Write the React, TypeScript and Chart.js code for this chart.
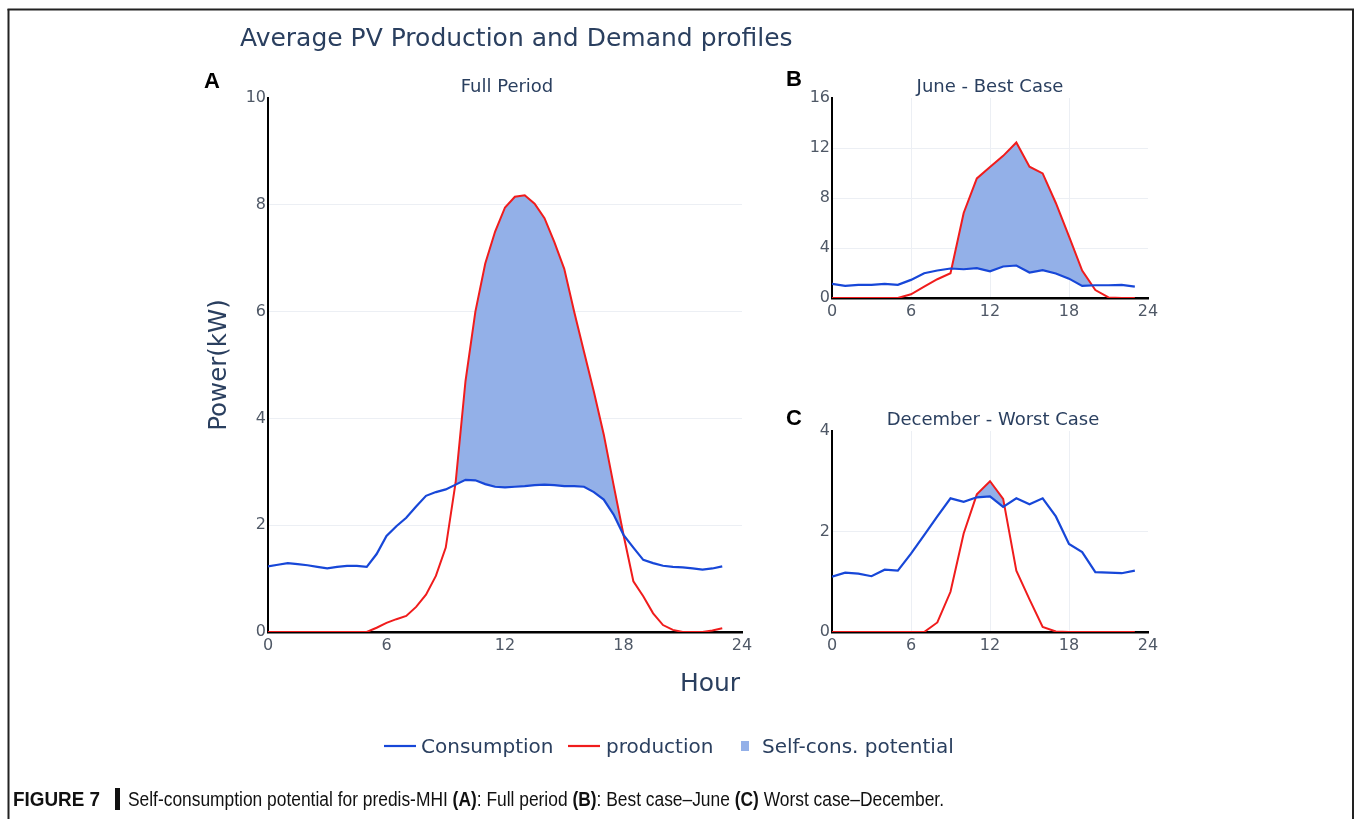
import React, { useEffect, useRef } from "react";
import { Chart, registerables } from "chart.js";
Chart.register(...registerables);

// ---------- data ----------
const hoursHalf = [0, 0.5, 1, 1.5, 2, 2.5, 3, 3.5, 4, 4.5, 5, 5.5, 6, 6.5, 7, 7.5, 8, 8.5, 9, 9.5, 10, 10.5, 11, 11.5, 12, 12.5, 13, 13.5, 14, 14.5, 15, 15.5, 16, 16.5, 17, 17.5, 18, 18.5, 19, 19.5, 20, 20.5, 21, 21.5, 22, 22.5, 23];
const hoursHourly = [0, 1, 2, 3, 4, 5, 6, 7, 8, 9, 10, 11, 12, 13, 14, 15, 16, 17, 18, 19, 20, 21, 22, 23];

// A: Full Period
const fullConsumption = [1.23, 1.26, 1.29, 1.27, 1.25, 1.22, 1.19, 1.22, 1.24, 1.24, 1.22, 1.46, 1.8, 1.98, 2.14, 2.35, 2.55, 2.62, 2.67, 2.76, 2.85, 2.84, 2.77, 2.72, 2.71, 2.72, 2.73, 2.75, 2.76, 2.75, 2.73, 2.73, 2.72, 2.62, 2.48, 2.2, 1.82, 1.58, 1.35, 1.29, 1.24, 1.22, 1.21, 1.19, 1.17, 1.19, 1.23];
const fullProduction = [0, 0, 0, 0, 0, 0, 0, 0, 0, 0, 0, 0.08, 0.17, 0.24, 0.3, 0.47, 0.7, 1.05, 1.58, 2.8, 4.7, 6.0, 6.9, 7.5, 7.95, 8.15, 8.18, 8.02, 7.75, 7.3, 6.8, 6.0, 5.25, 4.5, 3.7, 2.75, 1.82, 0.95, 0.67, 0.35, 0.13, 0.04, 0, 0, 0, 0.03, 0.07];

// B: June - Best Case
const juneConsumption = [1.13, 0.97, 1.05, 1.05, 1.13, 1.05, 1.45, 1.98, 2.2, 2.36, 2.3, 2.39, 2.14, 2.52, 2.6, 2.04, 2.23, 1.96, 1.55, 0.97, 1.02, 1.02, 1.05, 0.91];
const juneProduction = [0, 0, 0, 0, 0, 0, 0.3, 0.91, 1.5, 1.98, 6.8, 9.57, 10.48, 11.37, 12.44, 10.5, 9.97, 7.6, 4.93, 2.2, 0.64, 0.05, 0, 0];

// C: December - Worst Case
const decConsumption = [1.1, 1.18, 1.16, 1.11, 1.24, 1.22, 1.56, 1.93, 2.3, 2.66, 2.59, 2.68, 2.7, 2.49, 2.66, 2.54, 2.66, 2.3, 1.75, 1.59, 1.19, 1.18, 1.17, 1.22];
const decProduction = [0, 0, 0, 0, 0, 0, 0, 0, 0.19, 0.8, 1.96, 2.74, 3.0, 2.65, 1.22, 0.65, 0.1, 0.01, 0, 0, 0, 0, 0, 0];

const seriesNames = ["Consumption", "production", "Self-cons. potential"];

// ---------- style ----------
const BLUE = "#1747d8";
const RED = "#f01c1c";
const FILL = "#93b0e8";
const GRID = "#eceff4";
const TICK = "#4f5866";
const TITLE = "#2a3f5f";
const FONT = "'DejaVu Sans', Verdana, sans-serif";

type PanelProps = {
  left: number; top: number; width: number; height: number;
  padTop: number; padRight: number; yWidth: number; xHeight: number;
  hours: number[]; cons: number[]; prod: number[];
  yMax: number; yStep: number; xGrid: boolean;
};

function Panel(p: PanelProps) {
  const ref = useRef<HTMLCanvasElement>(null);
  useEffect(() => {
    const chart = new Chart(ref.current as HTMLCanvasElement, {
      type: "line",
      data: {
        datasets: [
          {
            label: seriesNames[0],
            data: p.hours.map((h, i) => ({ x: h, y: p.cons[i] })),
            borderColor: BLUE,
            borderWidth: 2.2,
            pointRadius: 0,
            tension: 0,
            fill: false,
          },
          {
            label: seriesNames[1],
            data: p.hours.map((h, i) => ({ x: h, y: p.prod[i] })),
            borderColor: RED,
            borderWidth: 2,
            pointRadius: 0,
            tension: 0,
            fill: { target: 0, above: FILL, below: "rgba(0,0,0,0)" },
          },
        ],
      },
      options: {
        animation: false,
        responsive: false,
        devicePixelRatio: 1,
        layout: { padding: { top: p.padTop, right: p.padRight, left: 0, bottom: 0 } },
        plugins: { legend: { display: false }, tooltip: { enabled: false }, title: { display: false } },
        scales: {
          x: {
            type: "linear",
            min: 0,
            max: 24,
            ticks: { stepSize: 6, font: { family: FONT, size: 16 }, color: TICK, padding: 4, maxRotation: 0, autoSkip: false },
            grid: {
              drawTicks: false,
              color: (ctx: any) =>
                !p.xGrid || (ctx.tick && (ctx.tick.value === 0 || ctx.tick.value === 24)) ? "rgba(0,0,0,0)" : GRID,
              lineWidth: 1,
            },
            border: { display: true, color: "#000", width: 2.5 },
            afterFit: (s: any) => { s.height = p.xHeight; },
          },
          y: {
            type: "linear",
            min: 0,
            max: p.yMax,
            ticks: { stepSize: p.yStep, font: { family: FONT, size: 16 }, color: TICK, padding: 2 },
            grid: {
              drawTicks: false,
              color: (ctx: any) =>
                ctx.tick && (ctx.tick.value === 0 || ctx.tick.value === p.yMax) ? "rgba(0,0,0,0)" : GRID,
              lineWidth: 1,
            },
            border: { display: true, color: "#000", width: 2 },
            afterFit: (s: any) => { s.width = p.yWidth; },
          },
        },
      },
    } as any);
    return () => chart.destroy();
  }, []);
  return (
    <canvas
      ref={ref}
      width={p.width}
      height={p.height}
      style={{ position: "absolute", left: p.left, top: p.top, width: p.width, height: p.height }}
    />
  );
}

export default function App() {
  return (
    <div style={{ position: "absolute", left: 0, top: 0, width: 1356, height: 819, background: "#fff", overflow: "hidden" }}>
      {/* A: plot area 268..742 x 98..632 */}
      <Panel left={200} top={80} width={570} height={590} padTop={18} padRight={28} yWidth={68} xHeight={38}
        hours={hoursHalf} cons={fullConsumption} prod={fullProduction} yMax={10} yStep={2} xGrid={false} />
      {/* B: plot area 832..1148 x 98..298 */}
      <Panel left={770} top={84} width={400} height={250} padTop={14} padRight={22} yWidth={62} xHeight={36}
        hours={hoursHourly} cons={juneConsumption} prod={juneProduction} yMax={16} yStep={4} xGrid={true} />
      {/* C: plot area 832..1148 x 431..632 */}
      <Panel left={770} top={417} width={400} height={250} padTop={14} padRight={22} yWidth={62} xHeight={35}
        hours={hoursHourly} cons={decConsumption} prod={decProduction} yMax={4} yStep={2} xGrid={true} />

      <svg width={1356} height={819} style={{ position: "absolute", left: 0, top: 0, pointerEvents: "none" }}>
        {/* frame */}
        <line x1={7.5} y1={9.5} x2={1354} y2={9.5} stroke="#222" strokeWidth={2} />
        <line x1={8.5} y1={9} x2={8.5} y2={819} stroke="#222" strokeWidth={2} />
        <line x1={1353} y1={9} x2={1353} y2={819} stroke="#222" strokeWidth={2} />

        <text x={240} y={46} fontFamily={FONT} fontSize={25} fill={TITLE}>Average PV Production and Demand profiles</text>

        <text x={204} y={88} fontFamily="'Liberation Sans', Arial, sans-serif" fontWeight="bold" fontSize={22} fill="#000">A</text>
        <text x={786} y={86} fontFamily="'Liberation Sans', Arial, sans-serif" fontWeight="bold" fontSize={22} fill="#000">B</text>
        <text x={786} y={425} fontFamily="'Liberation Sans', Arial, sans-serif" fontWeight="bold" fontSize={22} fill="#000">C</text>

        <text x={507} y={92} textAnchor="middle" fontFamily={FONT} fontSize={18} fill={TITLE}>Full Period</text>
        <text x={990} y={92} textAnchor="middle" fontFamily={FONT} fontSize={18} fill={TITLE}>June - Best Case</text>
        <text x={993} y={425} textAnchor="middle" fontFamily={FONT} fontSize={18} fill={TITLE}>December - Worst Case</text>

        <text transform="translate(226,365) rotate(-90)" textAnchor="middle" fontFamily={FONT} fontSize={24.5} fill={TITLE}>Power(kW)</text>
        <text x={710} y={691} textAnchor="middle" fontFamily={FONT} fontSize={25} fill={TITLE}>Hour</text>

        {/* legend */}
        <line x1={384} y1={746} x2={416} y2={746} stroke={BLUE} strokeWidth={2.2} />
        <text x={421} y={753} fontFamily={FONT} fontSize={20} fill={TITLE}>{seriesNames[0]}</text>
        <line x1={568} y1={746} x2={600} y2={746} stroke={RED} strokeWidth={2.2} />
        <text x={606} y={753} fontFamily={FONT} fontSize={20} fill={TITLE}>{seriesNames[1]}</text>
        <rect x={741} y={741} width={8} height={10} fill={FILL} />
        <text x={762} y={753} fontFamily={FONT} fontSize={20} fill={TITLE}>{seriesNames[2]}</text>

        {/* caption */}
        <text x={13} y={806} fontFamily="'Liberation Sans', Arial, sans-serif" fontWeight="bold" fontSize={19.5} fill="#111" textLength={87} lengthAdjust="spacingAndGlyphs">FIGURE 7</text>
        <rect x={115} y={788} width={5} height={22} fill="#111" />
        <text x={128} y={806} fontFamily="'Liberation Sans', Arial, sans-serif" fontSize={19.5} fill="#111" textLength={816} lengthAdjust="spacingAndGlyphs">
          Self-consumption potential for predis-MHI <tspan fontWeight="bold">(A)</tspan>: Full period <tspan fontWeight="bold">(B)</tspan>: Best case–June <tspan fontWeight="bold">(C)</tspan> Worst case–December.
        </text>
      </svg>
    </div>
  );
}
